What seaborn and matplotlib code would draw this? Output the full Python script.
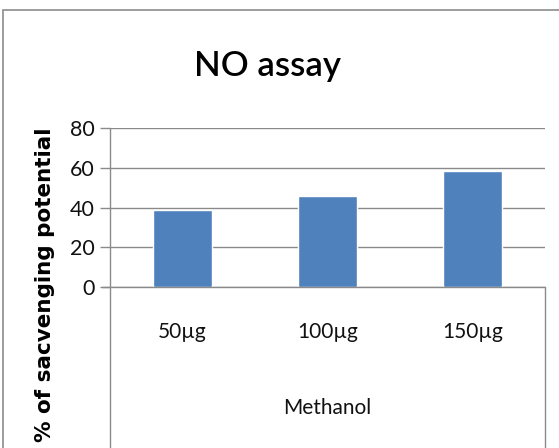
import matplotlib
matplotlib.use("Agg")
import matplotlib.pyplot as plt
import seaborn as sns
import pandas as pd
from matplotlib.patches import Rectangle

categories = ["50µg", "100µg", "150µg"]
values = [38.7, 45.8, 58.4]
yticks = [0, 20, 40, 60, 80]
title = "NO assay"
ylabel = "% of sacvenging potential"
group_label = "Methanol"

sns.set_theme(style="white")
plt.rcParams['font.family'] = ['Lato', 'DejaVu Sans']

W, H = 559, 448
fig = plt.figure(figsize=(W / 100, H / 100), dpi=100)
fig.patch.set_facecolor("white")

# outer chart border (cropped at right/bottom)
fig.add_artist(Rectangle((3 / W, -0.05), 1.1, (H - 10) / H + 0.05,
                         transform=fig.transFigure, fill=False,
                         edgecolor="#8c8c8c", linewidth=1.2))

x0, x1, y0, y1 = 110, 545, 287, 128
ax = fig.add_axes([x0 / W, (H - y0) / H, (x1 - x0) / W, (y0 - y1) / H])

df = pd.DataFrame({"cat": categories, "val": values})
sns.barplot(data=df, x="cat", y="val", color="#4F81BD", width=0.41,
            saturation=1, ax=ax)

ax.set_ylim(0, 80)
ax.set_yticks(yticks)
ax.set_yticklabels([str(t) for t in yticks], fontsize=15.5, color="#111111")
ax.set_xlim(-0.5, 2.5)
for s in ax.spines.values():
    s.set_visible(False)
ax.yaxis.grid(True, color="#8a8a8a", linewidth=1.0)
ax.set_axisbelow(True)
ax.tick_params(axis="y", length=7, color="#8a8a8a", width=1.0, pad=4, left=True)
ax.tick_params(axis="x", length=0, pad=25, labelsize=15, labelcolor="#111111")
ax.set_xlabel("")
ax.set_ylabel("")

# axis + category box lines
dy = (H - y0) / (y0 - y1)
kw = dict(transform=ax.transAxes, clip_on=False, color="#8a8a8a", linewidth=1.0)
ax.plot([0, 0], [1, -dy - 0.05], **kw)
ax.plot([1, 1], [0, -dy - 0.05], **kw)
ax.plot([-8 / (x1 - x0), 1], [0, 0], **kw)

ax.text(0.5, (y0 - 408) / (y0 - y1), group_label, transform=ax.transAxes,
        ha="center", va="center", fontsize=15, color="#111111")

fig.text(268 / W, (H - 66) / H, title, ha="center", va="center",
         fontsize=25, fontweight="semibold", color="black")
fig.text(45 / W, (H - 285) / H, ylabel, rotation=90, ha="center", va="center",
         fontsize=15.5, fontweight="bold", color="black", family="DejaVu Sans")

fig.savefig("out.png", dpi=100)
